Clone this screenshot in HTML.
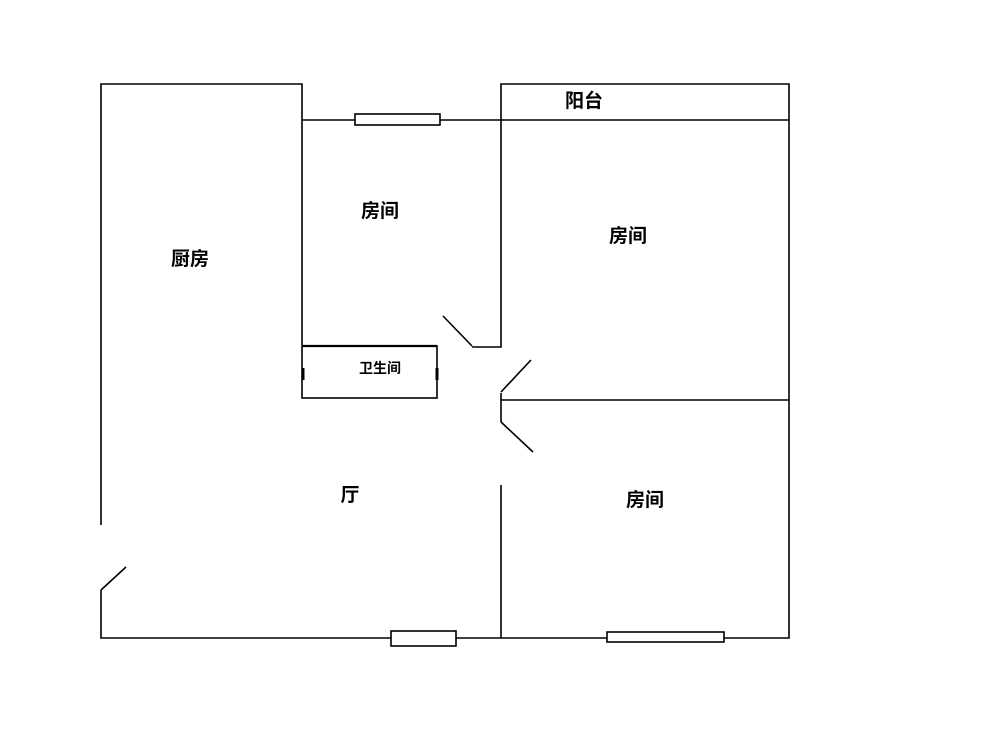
<!DOCTYPE html>
<html><head><meta charset="utf-8"><style>
html,body{margin:0;padding:0;background:#fff;width:1000px;height:744px;overflow:hidden}
</style></head><body>
<svg width="1000" height="744" xmlns="http://www.w3.org/2000/svg" style="font-family:'Liberation Sans','Noto Sans CJK SC',sans-serif">
<g stroke="#000" stroke-width="1.6" fill="none">
<polyline points="101,525 101,84 302,84 302,345"/>
<polyline points="101,590 101,638 789,638 789,84 501,84 501,347 472,347"/>
<line x1="501" y1="120" x2="789" y2="120"/>
<line x1="302" y1="120" x2="501" y2="120"/>
<rect x="355" y="114" width="85" height="11" fill="#fff"/>
<line x1="443" y1="316" x2="472" y2="346"/>
<line x1="101" y1="590" x2="126" y2="567"/>
<rect x="302" y="346" width="135" height="52"/>
<line x1="302" y1="346" x2="437" y2="346" stroke-width="2.2"/>
<line x1="303" y1="368" x2="303" y2="380" stroke-width="3"/>
<line x1="437" y1="368" x2="437" y2="380" stroke-width="3"/>
<polyline points="501,393 501,422"/>
<line x1="501" y1="400" x2="789" y2="400"/>
<line x1="501" y1="392" x2="531" y2="360"/>
<line x1="501" y1="422" x2="533" y2="452"/>
<line x1="501" y1="485" x2="501" y2="638"/>
<rect x="391" y="631" width="65" height="15" fill="#fff"/>
<rect x="607" y="632" width="117" height="10" fill="#fff"/>
</g>
<g font-size="19" fill="#000" text-anchor="middle" font-weight="bold">
<text x="190" y="265">厨房</text>
<text x="380" y="217">房间</text>
<text x="628" y="242">房间</text>
<text x="350" y="501">厅</text>
<text x="645" y="506">房间</text>
<text x="584" y="107">阳台</text>
<text x="380" y="373" font-size="14">卫生间</text>
</g>
</svg>
</body></html>
